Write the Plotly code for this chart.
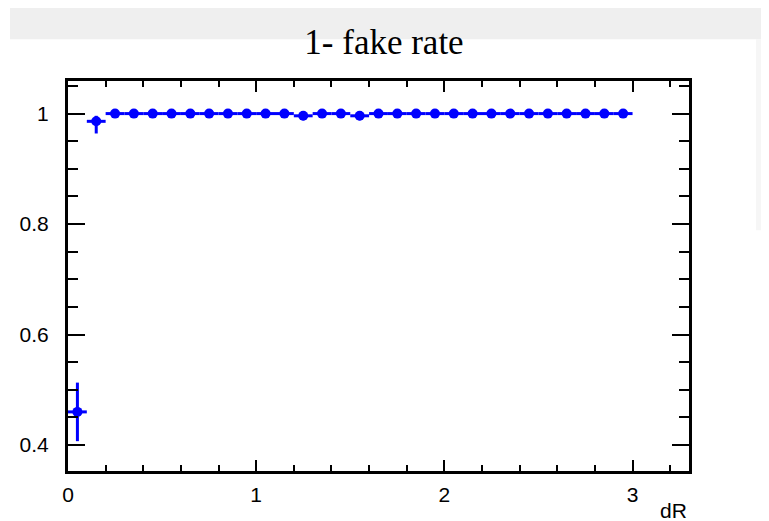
import plotly.graph_objects as go

# ---- data ----
dR_centers = [0.05, 0.15, 0.25, 0.35, 0.45, 0.55, 0.65, 0.75, 0.85, 0.95,
              1.05, 1.15, 1.25, 1.35, 1.45, 1.55, 1.65, 1.75, 1.85, 1.95,
              2.05, 2.15, 2.25, 2.35, 2.45, 2.55, 2.65, 2.75, 2.85, 2.95]
eff = [0.460, 0.986, 1.0, 1.0, 1.0, 1.0, 1.0, 1.0, 1.0, 1.0,
       1.0, 1.0, 0.996, 1.0, 1.0, 0.996, 1.0, 1.0, 1.0, 1.0,
       1.0, 1.0, 1.0, 1.0, 1.0, 1.0, 1.0, 1.0, 1.0, 1.0]
err_up = [0.053, 0.010] + [0.0] * 10 + [0.004, 0.0, 0.0, 0.004] + [0.0] * 14
err_down = [0.053, 0.022] + [0.008] * 28
bin_half_width = [0.05] * 30

title_text = "1- fake rate"
x_title = "dR"

BLUE = "#0000ff"

fig = go.Figure()
fig.add_trace(go.Scatter(
    x=dR_centers, y=eff, mode="markers",
    marker=dict(color=BLUE, size=10, symbol="circle"),
    error_y=dict(type="data", array=err_up, arrayminus=err_down, symmetric=False,
                 color=BLUE, thickness=3, width=0),
    error_x=dict(type="data", array=bin_half_width, color=BLUE, thickness=3, width=0),
    showlegend=False,
))

# page offset (browser body margin) -> work in reference pixel coords
OFF = 8
W, H = 769 - OFF, 521 - OFF
L, R, T, B = 68 - OFF, 689 - OFF, 80.7 - OFF, 471 - OFF
pw, ph = R - L, B - T

def px(x):
    return (x - OFF - L) / pw

def py(y):
    return (B - (y - OFF)) / ph

shapes = [
    dict(type="rect", xref="paper", yref="paper", layer="below",
         x0=px(10), x1=px(775), y0=py(39), y1=py(7),
         fillcolor="#efefef", line=dict(width=0)),
    dict(type="rect", xref="paper", yref="paper", layer="below",
         x0=px(756), x1=px(775), y0=py(230), y1=py(39),
         fillcolor="#f6f6f6", line=dict(width=0)),
]

fig.update_layout(
    width=W, height=H,
    margin=dict(l=L, r=W - R, t=T, b=H - B, pad=0),
    paper_bgcolor="white", plot_bgcolor="white",
    shapes=shapes,
    title=dict(text=title_text, x=(384 - OFF) / W, xanchor="center", xref="container",
               y=1 - (42 - OFF) / H, yanchor="middle", yref="container",
               font=dict(family="Liberation Serif", size=35, color="black")),
    font=dict(family="Liberation Sans", size=21, color="black"),
    annotations=[dict(text=x_title, xref="paper", yref="paper",
                      x=px(689), y=py(497), xanchor="right", yanchor="top",
                      showarrow=False, font=dict(size=21))],
)

fig.update_xaxes(
    range=[0, 3.3], tickmode="linear", tick0=0, dtick=1,
    showgrid=False, zeroline=False,
    showline=True, linecolor="black", linewidth=3, mirror="allticks",
    ticks="inside", ticklen=11, tickwidth=2, tickcolor="black",
    minor=dict(dtick=0.2, ticks="inside", ticklen=6, tickwidth=2, tickcolor="black", showgrid=False),
    ticklabelstandoff=3,
)
fig.update_yaxes(
    range=[0.353, 1.059], tickmode="array", tickvals=[0.4, 0.6, 0.8, 1.0],
    ticktext=["0.4", "0.6", "0.8", "1"],
    showgrid=False, zeroline=False,
    showline=True, linecolor="black", linewidth=3, mirror="allticks",
    ticks="inside", ticklen=17, tickwidth=2, tickcolor="black",
    minor=dict(tick0=0.35, dtick=0.05, ticks="inside", ticklen=10, tickwidth=2, tickcolor="black", showgrid=False),
    ticklabelstandoff=12,
)

fig.write_html("out.html")
